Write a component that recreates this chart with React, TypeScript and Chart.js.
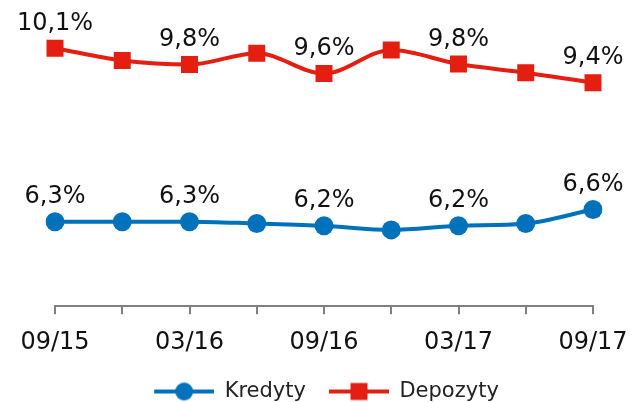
import React, { useEffect, useRef } from 'react';
import { Chart, registerables } from 'chart.js';

Chart.register(...registerables);

const categories = ['09/15', '12/15', '03/16', '06/16', '09/16', '12/16', '03/17', '06/17', '09/17'];
const tickLabels = ['09/15', '', '03/16', '', '09/16', '', '03/17', '', '09/17'];
const kredyty = [6.3, 6.3, 6.3, 6.26, 6.21, 6.12, 6.21, 6.26, 6.57];
const depozyty = [10.12, 9.85, 9.76, 10.01, 9.56, 10.08, 9.77, 9.58, 9.36];
const labeledIdx = [0, 2, 4, 6, 8];
const seriesNames = ['Kredyty', 'Depozyty'];

const BLUE = '#0072BC';
const RED = '#E41E10';
const FONT = '"DejaVu Sans", Verdana, sans-serif';

const fmt = (v: number) => v.toFixed(1).replace('.', ',') + '%';

const ICON_MARGIN = 13;

function makeIcon(color: string, shape: 'circle' | 'rect') {
  const c = document.createElement('canvas');
  c.width = 60 + ICON_MARGIN;
  c.height = 22;
  const g = c.getContext('2d')!;
  g.strokeStyle = color;
  g.lineWidth = 4;
  g.beginPath();
  g.moveTo(ICON_MARGIN, 11);
  g.lineTo(60 + ICON_MARGIN, 11);
  g.stroke();
  g.fillStyle = color;
  const cx = ICON_MARGIN + 30;
  if (shape === 'circle') {
    g.beginPath();
    g.arc(cx, 11, 9, 0, Math.PI * 2);
    g.fill();
  } else {
    g.fillRect(cx - 8.5, 2.5, 17, 17);
  }
  return c;
}

const dataLabelPlugin = {
  id: 'dataLabels',
  afterDatasetsDraw(chart: any) {
    const ctx = chart.ctx;
    ctx.save();
    ctx.font = '24px ' + FONT;
    ctx.fillStyle = '#111111';
    ctx.textAlign = 'center';
    ctx.textBaseline = 'alphabetic';
    chart.data.datasets.forEach((ds: any, di: number) => {
      const meta = chart.getDatasetMeta(di);
      labeledIdx.forEach((i) => {
        const pt = meta.data[i];
        ctx.fillText(fmt(ds.data[i]), pt.x, pt.y - 18.5);
      });
    });
    ctx.restore();
  },
};

export default function App() {
  const ref = useRef<HTMLCanvasElement | null>(null);
  useEffect(() => {
    if (!ref.current) return;
    const icons = [makeIcon(BLUE, 'circle'), makeIcon(RED, 'rect')];
    const chart = new Chart(ref.current, {
      type: 'line',
      data: {
        labels: categories,
        datasets: [
          {
            label: seriesNames[0],
            data: kredyty,
            borderColor: BLUE,
            backgroundColor: BLUE,
            borderWidth: 4,
            pointStyle: 'circle',
            pointRadius: 9.5,
            pointBorderWidth: 0,
            pointBackgroundColor: BLUE,
            cubicInterpolationMode: 'monotone',
          },
          {
            label: seriesNames[1],
            data: depozyty,
            borderColor: RED,
            backgroundColor: RED,
            borderWidth: 4,
            pointStyle: 'rect',
            pointRadius: 12,
            pointBorderWidth: 0,
            pointBackgroundColor: RED,
            cubicInterpolationMode: 'monotone',
          },
        ],
      },
      options: {
        responsive: false,
        animation: false,
        layout: { padding: { left: 47, right: 40, top: 20, bottom: -10 } },
        scales: {
          x: {
            offset: false,
            afterFit: (s: any) => {
              s.paddingLeft = 55;
              s.paddingRight = 0;
            },
            grid: {
              display: true,
              drawOnChartArea: false,
              drawTicks: true,
              tickLength: 8,
              color: '#808080',
              lineWidth: 2,
            },
            border: { display: true, color: '#808080', width: 2 },
            ticks: {
              autoSkip: false,
              maxRotation: 0,
              color: '#111111',
              padding: 14,
              font: { family: FONT, size: 24 },
              callback: (_v: any, i: number) => tickLabels[i],
            },
          },
          y: { display: false, min: 4.44, max: 10.74 },
        },
        plugins: {
          tooltip: { enabled: false },
          legend: {
            position: 'bottom',
            labels: {
              usePointStyle: true,
              pointStyleWidth: 60 + ICON_MARGIN,
              color: '#222222',
              padding: 10,
              font: { family: FONT, size: 21 },
              generateLabels: (ch: any) => {
                const items = Chart.defaults.plugins.legend.labels.generateLabels(ch);
                items.forEach((it: any, i: number) => {
                  it.pointStyle = icons[i];
                });
                return items;
              },
            },
          },
        },
      },
      plugins: [dataLabelPlugin],
    } as any);
    return () => chart.destroy();
  }, []);
  return (
    <div style={{ position: 'absolute', left: 0, top: 0, width: 633, height: 402, background: '#fff' }}>
      <canvas ref={ref} width={633} height={402} />
    </div>
  );
}
